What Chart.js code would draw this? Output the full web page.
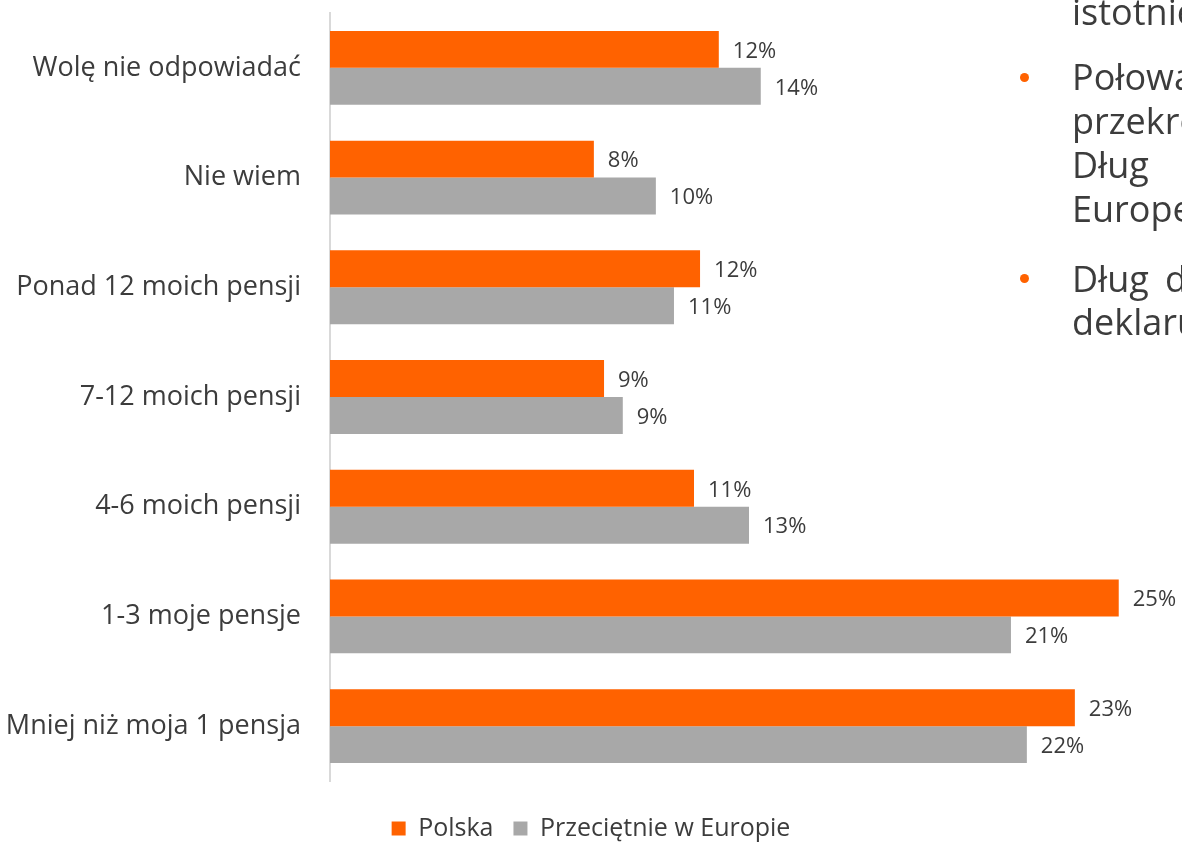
<!DOCTYPE html>
<html lang="pl">
<head>
<meta charset="utf-8">
<title>Dług a pensja</title>
<script src="https://cdn.jsdelivr.net/npm/chart.js@4/dist/chart.umd.min.js"></script>
<style>
  html, body { margin: 0; padding: 0; background: #fff; overflow: hidden; width: 1182px; height: 846px; }
  #wrap { position: absolute; left: 0; top: 0; width: 1182px; height: 851px; }
  .side { position: absolute; left: 1072px; font-family: "Open Sans", sans-serif; font-size: 36px; line-height: 38px; color: #3c3c3c; white-space: nowrap; }
  .dot { position: absolute; left: 1020px; width: 9px; height: 9px; border-radius: 50%; background: #ff6200; }
</style>
</head>
<body>
<div id="wrap"><canvas id="chart"></canvas></div>

<div class="side" style="top:-7px">istotnie</div>
<div class="dot" style="top:73px"></div>
<div class="side" style="top:58px">Połowa</div>
<div class="side" style="top:102px">przekroczyła</div>
<div class="side" style="top:146px">Dług</div>
<div class="side" style="top:190px">Europejczyków</div>
<div class="dot" style="top:274px"></div>
<div class="side" style="top:260px">Dług<span style="position:absolute;left:93px">do</span></div>
<div class="side" style="top:303px">deklaruje</div>

<script>
// Kategorie (od góry)
const categories = [
  'Wolę nie odpowiadać',
  'Nie wiem',
  'Ponad 12 moich pensji',
  '7-12 moich pensji',
  '4-6 moich pensji',
  '1-3 moje pensje',
  'Mniej niż moja 1 pensja',
];

// Udział odpowiedzi w %
const polska = [12.23, 8.30, 11.64, 8.62, 11.45, 24.81, 23.43];
const europa = [13.55, 10.25, 10.82, 9.21, 13.18, 21.42, 21.92];

const seriesNames = ['Polska', 'Przeciętnie w Europie'];
const seriesColors = ['#ff6200', '#a8a8a8'];

const textColor = '#3c3c3c';
const fontFamily = '"Open Sans", sans-serif';

// etykiety z wartościami przy końcach słupków
const valueLabels = {
  id: 'valueLabels',
  afterDatasetsDraw(chart) {
    const ctx = chart.ctx;
    ctx.save();
    ctx.font = '22px ' + fontFamily;
    ctx.fillStyle = textColor;
    ctx.textAlign = 'left';
    ctx.textBaseline = 'middle';
    chart.data.datasets.forEach((ds, i) => {
      chart.getDatasetMeta(i).data.forEach((bar, j) => {
        ctx.fillText(Math.round(ds.data[j]) + '%', bar.x + 14, bar.y + 2);
      });
    });
    ctx.restore();
  },
};

const ctx = document.getElementById('chart').getContext('2d');

new Chart(ctx, {
  type: 'bar',
  data: {
    labels: categories,
    datasets: [
      { label: seriesNames[0], data: polska, backgroundColor: seriesColors[0] },
      { label: seriesNames[1], data: europa, backgroundColor: seriesColors[1] },
    ],
  },
  options: {
    indexAxis: 'y',
    responsive: true,
    maintainAspectRatio: false,
    animation: false,
    categoryPercentage: 0.673,
    barPercentage: 1,
    layout: { padding: { top: 13, left: 0, right: 0, bottom: 0 } },
    scales: {
      x: {
        min: 0,
        max: 26.8,
        display: true,
        ticks: { display: false },
        grid: { display: false },
        border: { display: false },
        afterFit(scale) {
          scale.height = 15;
        },
      },
      y: {
        grid: { display: false, drawTicks: false },
        border: { display: true, color: '#d9d9d9', width: 2 },
        ticks: {
          padding: 29,
          color: textColor,
          font: { family: fontFamily, size: 27 },
        },
        afterFit(scale) {
          scale.width = 330;
          scale.paddingTop = 0;
          scale.paddingBottom = 0;
        },
      },
    },
    plugins: {
      legend: {
        position: 'bottom',
        labels: {
          boxWidth: 14,
          boxHeight: 14,
          padding: 20,
          color: textColor,
          font: { family: fontFamily, size: 25 },
        },
      },
      tooltip: { enabled: false },
    },
  },
  plugins: [valueLabels],
});
</script>
</body>
</html>
